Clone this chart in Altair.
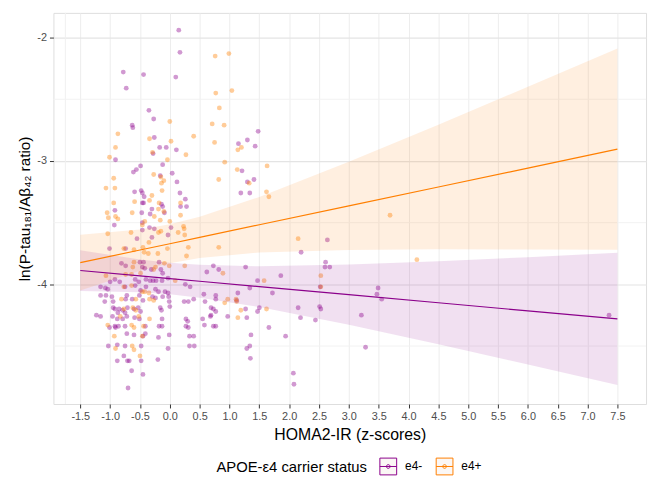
import altair as alt
import pandas as pd

# ---- data ----
purple_x = [0.15, 0.17, -0.78, -0.44, -0.73, 0.10, -0.35,
            -0.27, -0.63, -0.62, -0.26, -0.17, -0.06, 0.11, -0.28, -0.91, -0.12, -0.49, -0.56, -0.61,
            0.04, -0.16, 0.12, -0.59, -0.48, -0.46, -0.43, 0.17, -0.44, -0.46, -0.14, -0.12, -0.92,
            -0.30, 0.18, -0.47, -0.33, -0.09, -0.46, -0.93, -0.34, 0.02, -0.46, -0.26, -0.55, -0.30,
            -0.03, -1.01, -0.74,
            1.48, 1.30, 1.15, 1.43, 1.21, 1.30, 1.41, 1.19, 1.34, 0.26, 0.28,
            -0.81, -0.74, -0.50, -0.44, -0.46, -0.42, -0.31, -0.18, -0.15, -0.12, -1.00, -0.92, -0.84,
            -0.58, -0.52, -0.40, -0.33, -0.28, -0.23, -0.13, -0.03, -1.16, -1.08, -1.04, -0.75, -0.58,
            -0.49, -0.40, -0.24, -0.19, -0.08, -1.16, -1.07, -0.97, -0.72, -0.51, -0.29, -0.12, -0.03,
            -0.02, -1.09, -0.95, -0.74, -0.63, -0.45, -0.24, -0.01, -0.95, -0.92, -0.85, -0.79, -0.71,
            -0.60, -0.53, -0.16, -0.14, 0.00, -0.87, -0.75, -0.49, -1.23, -1.16, -0.96, -0.88, -0.79,
            -0.72, -0.59, -0.51, -0.13, -0.92, -1.01, -0.91, -0.86, -0.75, -0.41, -0.18, -0.13, -0.72,
            -0.60, -0.45, -0.41, -0.01, -0.19, -1.03, -0.88, -0.75, -0.48, -0.03, -0.88, -0.77, -0.71,
            -0.68, -0.48, -0.20, -0.64, -0.45, -0.70,
            0.73, 0.62, 0.82, 1.27, 1.47, 1.86, 0.26, 0.34, 1.14, 1.34, 1.72, 0.57, 0.77, 0.24, 0.31,
            0.40, 0.59, 0.77, 1.12, 0.69, 0.73, 0.77, 1.27, 1.50, 1.47, 0.69, 0.97, 1.29, 0.27, 0.30,
            0.55, 0.68, 0.58, 0.73, 0.77, 0.27, 0.31, 1.66, 1.36, 0.33, 0.40, 1.94, 0.33, 0.41, 1.34,
            1.29, 1.35,
            2.64, 2.20, 2.61, 2.60, 2.68, 2.52, 3.49, 3.47, 3.55, 2.15, 2.51, 2.53, 2.19, 2.44, 3.21,
            3.28, 2.07, 2.08, 7.36]
purple_y = [-1.94, -2.12, -2.28, -2.30, -2.41, -2.32, -2.59,
            -2.66, -2.71, -2.73, -2.81, -2.89, -2.89, -2.91, -2.94, -2.99, -3.03, -3.04, -3.07, -3.09,
            -3.10, -3.12, -3.17, -3.25, -3.24, -3.26, -3.29, -3.26, -3.34, -3.34, -3.35, -3.37, -3.40,
            -3.39, -3.37, -3.42, -3.43, -3.42, -3.50, -3.52, -3.54, -3.54, -3.56, -3.55, -3.63, -3.62,
            -3.60, -3.71, -3.71,
            -2.76, -2.83, -2.86, -2.88, -3.08, -3.17, -3.15, -3.26, -3.26, -3.31, -3.37,
            -3.83, -3.85, -3.82, -3.82, -3.86, -3.87, -3.88, -3.82, -3.88, -3.91, -3.98, -3.96, -3.98,
            -3.96, -3.98, -3.96, -3.97, -3.97, -3.97, -3.97, -3.95, -4.02, -4.03, -4.04, -4.02, -4.01,
            -4.05, -4.02, -4.04, -4.06, -4.06, -4.09, -4.09, -4.10, -4.09, -4.09, -4.10, -4.10, -4.07,
            -4.10, -4.14, -4.14, -4.12, -4.12, -4.13, -4.11, -4.14, -4.19, -4.20, -4.20, -4.21, -4.19,
            -4.20, -4.19, -4.19, -4.21, -4.18, -4.23, -4.23, -4.22, -4.25, -4.26, -4.26, -4.28, -4.28,
            -4.26, -4.27, -4.28, -4.28, -4.34, -4.35, -4.35, -4.34, -4.34, -4.34, -4.34, -4.34, -4.40,
            -4.41, -4.42, -4.40, -4.41, -4.43, -4.50, -4.49, -4.50, -4.50, -4.52, -4.62, -4.58, -4.62,
            -4.62, -4.62, -4.61, -4.70, -4.73, -4.84,
            -3.85, -3.90, -3.88, -3.86, -3.97, -3.93, -4.00, -4.02, -4.07, -4.03, -4.07, -4.08, -4.09,
            -4.14, -4.14, -4.12, -4.14, -4.12, -4.13, -4.19, -4.20, -4.22, -4.20, -4.19, -4.22, -4.25,
            -4.26, -4.27, -4.28, -4.30, -4.28, -4.26, -4.33, -4.34, -4.34, -4.34, -4.35, -4.35, -4.41,
            -4.42, -4.42, -4.42, -4.50, -4.50, -4.50, -4.52, -4.60,
            -3.64, -3.74, -3.82, -3.86, -3.86, -4.02, -4.03, -4.08, -4.12, -4.19, -4.18, -4.20, -4.27,
            -4.29, -4.25, -4.51, -4.72, -4.81, -4.25]

orange_x = [0.76, 0.99, 0.77, 1.04, 0.83,
            0.00, -0.87, -0.34, 0.02, -0.91, -0.29, -1.01, -0.04, -0.27, -0.15, -0.94, -0.10, -0.14,
            -1.07, -0.92, -0.13, -0.30, -0.59, -0.34, -0.94, -0.18, -0.19, -0.10, -1.05, -0.63, -1.03,
            -0.91, -0.87, -0.26, -0.16, 0.00, -0.42, -0.46, -0.15, -0.65, -0.19, -1.04, -0.35, -0.45,
            -0.77, -0.43, -0.04,
            0.71, 0.91, 0.40, 0.75, 1.20, 1.14, 0.27, 0.92, 1.63, 1.13, 0.82, 1.33, 1.62, 1.66, 0.18,
            0.18, 0.23, 0.24, 0.14, 0.25, 0.31, 0.82,
            -0.60, -0.36, -0.20, -0.62, -0.60, -0.24, -0.27, -0.09, -0.01, -1.07, -0.74, -0.64, -0.49,
            0.09, -0.77, -0.64, -0.46, -0.42, -0.35, -0.81, -0.57, -0.34, -0.27, -0.77, -0.62, -0.57,
            -0.83, -0.52, -0.34, -1.04, -0.64, -0.60, -0.44, -0.93, -0.46, -0.91, -0.63, -0.60, -0.50,
            0.28, 0.25, 0.89, 1.58, 0.97, 1.11, 0.92, 1.12, 1.19, 1.14, 1.62,
            2.15, 3.69, 2.53, 2.53, 4.14]
orange_y = [-2.15, -2.13, -2.45, -2.43, -2.57,
            -2.68, -2.78, -2.82, -2.84, -2.89, -2.93, -2.97, -2.99, -3.11, -3.13, -3.14, -3.16, -3.18,
            -3.22, -3.22, -3.24, -3.28, -3.33, -3.32, -3.34, -3.34, -3.39, -3.41, -3.42, -3.42, -3.46,
            -3.45, -3.47, -3.45, -3.48, -3.49, -3.49, -3.52, -3.57, -3.58, -3.58, -3.59, -3.66, -3.70,
            -3.71, -3.74, -3.71,
            -2.70, -2.71, -2.80, -2.85, -2.89, -2.91, -2.95, -3.01, -3.04, -3.07, -3.15, -3.18, -3.25,
            -3.29, -3.34, -3.44, -3.53, -3.55, -3.58, -3.60, -3.70, -3.70,
            -3.72, -3.75, -3.75, -3.86, -3.82, -3.86, -3.88, -3.83, -3.85, -3.93, -3.92, -3.92, -3.91,
            -3.97, -4.02, -4.01, -4.06, -4.06, -4.07, -4.12, -4.12, -4.12, -4.13, -4.20, -4.19, -4.21,
            -4.26, -4.26, -4.28, -4.33, -4.33, -4.35, -4.34, -4.42, -4.42, -4.52, -4.50, -4.53, -4.58,
            -3.77, -3.85, -3.91, -3.97, -4.12, -4.12, -4.15, -4.14, -4.21, -4.27, -4.20,
            -3.63, -3.44, -3.93, -4.02, -3.80]

fit_x = [-1.5, -0.5, 0.0, 0.5, 1.5, 3.0, 4.5, 6.0, 7.5]
purple_fit = [-3.888, -3.932, -3.953, -3.975, -4.019, -4.084, -4.149, -4.215, -4.280]
purple_lo = [-4.053, -4.065, -4.081, -4.108, -4.184, -4.328, -4.486, -4.650, -4.816]
purple_hi = [-3.723, -3.799, -3.825, -3.842, -3.854, -3.840, -3.812, -3.780, -3.744]
orange_fit = [-3.824, -3.722, -3.671, -3.620, -3.517, -3.364, -3.211, -3.058, -2.904]
orange_lo = [-4.049, -3.889, -3.829, -3.787, -3.742, -3.721, -3.716, -3.717, -3.719]
orange_hi = [-3.599, -3.555, -3.513, -3.453, -3.292, -3.007, -2.706, -2.399, -2.089]

groups = ["e4-", "e4+"]
group_colors = ["#8B008B", "#FF7F00"]

x_ticks = [-1.5, -1.0, -0.5, 0.0, 0.5, 1.0, 1.5, 2.0, 2.5, 3.0, 3.5, 4.0, 4.5,
           5.0, 5.5, 6.0, 6.5, 7.0, 7.5]
x_minor = [-1.75]
y_ticks = [-2, -3, -4]
y_minor = [-2.5, -3.5, -4.5]
x_domain = [-1.95, 7.98]
y_domain = [-4.97, -1.8]

x_title = "HOMA2-IR (z-scores)"
y_title = "ln(P-tau\u2081\u2088\u2081/A\u03b2\u2084\u2082 ratio)"
legend_title = "APOE-\u03b54 carrier status"

# ---- tables ----
pts = pd.concat([
    pd.DataFrame({"x": purple_x, "y": purple_y, "grp": groups[0]}),
    pd.DataFrame({"x": orange_x, "y": orange_y, "grp": groups[1]}),
])
fits = pd.concat([
    pd.DataFrame({"x": fit_x, "y": purple_fit, "lo": purple_lo, "hi": purple_hi, "g": groups[0]}),
    pd.DataFrame({"x": fit_x, "y": orange_fit, "lo": orange_lo, "hi": orange_hi, "g": groups[1]}),
])
fits["band"] = fits["g"]
xminor_df = pd.DataFrame({"x": x_minor})
yminor_df = pd.DataFrame({"y": y_minor})

FONT = "Liberation Sans"
MINUS = "replace(datum.label, '\u2212', '-')"

x_axis = alt.Axis(values=x_ticks, format=".1f", labelExpr=MINUS, title=x_title,
                  grid=True, gridColor="#EDEDED", gridWidth=1, domain=False,
                  tickColor="#333333", tickSize=4, labelColor="#4D4D4D", labelFontSize=11,
                  labelFont=FONT, titleFont=FONT, titleFontSize=16, titleFontWeight="normal",
                  titleColor="#000000", labelPadding=3, titlePadding=5)
y_axis = alt.Axis(values=y_ticks, format="d", labelExpr=MINUS, title=y_title,
                  grid=True, gridColor="#E4E4E4", gridWidth=1.2, domain=False,
                  tickColor="#333333", tickSize=4, labelColor="#4D4D4D", labelFontSize=11,
                  labelFont=FONT, titleFont=FONT, titleFontSize=15.5, titleFontWeight="normal",
                  titleColor="#000000", labelPadding=3, titleX=-21)

xs = alt.Scale(domain=x_domain, nice=False, zero=False)
ys = alt.Scale(domain=y_domain, nice=False, zero=False)


def X(f):
    return alt.X(f"{f}:Q", scale=xs, axis=x_axis, title=x_title)


def Y(f):
    return alt.Y(f"{f}:Q", scale=ys, axis=y_axis, title=y_title)


# stroke scale (with legend) and fill scale (no legend) use differently ordered
# domains so Vega-Lite does not merge the two legends into one disabled legend
stroke_scale = alt.Scale(domain=groups, range=group_colors)
fill_scale = alt.Scale(domain=groups[::-1], range=group_colors[::-1])
legend_symbol = ("M-1,-1L1,-1L1,1L-1,1Z M-1,0L1,0 "
                 "M-0.22,0A0.22,0.22,0,1,1,0.22,0A0.22,0.22,0,1,1,-0.22,0Z")

minor_x = alt.Chart(xminor_df).mark_rule(color="#F0F0F0", strokeWidth=1).encode(x=X("x"))
minor_y = alt.Chart(yminor_df).mark_rule(color="#F2F2F2", strokeWidth=1).encode(y=Y("y"))

points = alt.Chart(pts).mark_circle(size=24, opacity=0.4).encode(
    x=X("x"), y=Y("y"), fill=alt.Fill("grp:N", scale=fill_scale, legend=None))

bands = alt.Chart(fits).mark_area(opacity=0.12).encode(
    x=X("x"), y=Y("lo"), y2="hi:Q", fill=alt.Fill("band:N", scale=fill_scale, legend=None),
    detail="band:N")

lines = alt.Chart(fits).mark_line(strokeWidth=1.2).encode(
    x=X("x"), y=Y("y"),
    stroke=alt.Stroke("g:N", scale=stroke_scale, legend=alt.Legend(
        title=legend_title, orient="none", legendX=165, legendY=450,
        direction="horizontal", titleOrient="left",
        symbolType=legend_symbol, symbolSize=289, symbolStrokeWidth=1,
        symbolFillColor="#FBF7F5",
        titleFontSize=15, titleFontWeight="normal", titleColor="#000000", titleFont=FONT,
        labelFontSize=12, labelColor="#000000", labelFont=FONT, labelOffset=8,
        columnPadding=11, titlePadding=12)))

chart = alt.layer(minor_x, minor_y, points, bands, lines).properties(
    width=600, height=396,
    padding={"left": 10, "top": 1, "right": 4, "bottom": 2},
).configure_view(stroke="#9A9A9A", strokeWidth=1.2).configure(font=FONT)

chart.save("out.html", embed_options={"renderer": "svg", "actions": False})
